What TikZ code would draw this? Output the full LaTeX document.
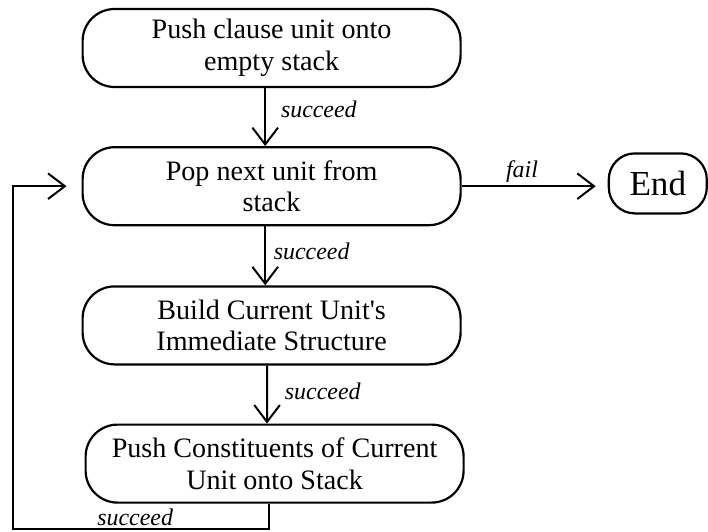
\documentclass[tikz,border=0pt]{standalone}
\usepackage{fontspec}
\setmainfont{Liberation Serif}
\usetikzlibrary{arrows.meta,positioning}
\tikzset{
	unitbox/.style={draw, line width=0.055cm, rounded corners=0.8cm, minimum width=9.45cm, minimum height=1.95cm, align=center, font=\fontsize{20}{22.5}\selectfont},
	flow/.style={line width=0.05cm, -{Straight Barb[length=0.42cm,width=0.64cm,line width=0.05cm]}},
	lbl/.style={font=\fontsize{17}{19}\selectfont\itshape, inner sep=2pt}
}

\begin{document}
\begin{tikzpicture}[node distance=1.45cm]
			%%%%% START %%%%%
			\useasboundingbox (0, 0) rectangle (17.7, -13.275);
			
			\node[unitbox] (push) at (6.79, -1.2) {Push clause unit onto\\empty stack};
			\node[unitbox, below=of push] (pop) {Pop next unit from\\stack};
			\node[unitbox, below=1.475cm of pop] (build) {Build Current Unit\textquotesingle s\\Immediate Structure};
			\node[unitbox, below=of build, xshift=0.075cm] (pushcon) {Push Constituents of Current\\Unit onto Stack};
			
			\node[draw, line width=0.055cm, rounded corners=0.65cm, minimum width=2.45cm, minimum height=1.5cm, font=\fontsize{25}{30}\selectfont, right=3.65cm of pop, yshift=0.07cm] (end) {End};
			
			\draw[flow] ([xshift=-0.16cm]push.south) -- ([xshift=-0.16cm]pop.north) node[lbl, right, pos=0.36, xshift=0.3cm] {succeed};
			\draw[flow] ([xshift=-0.16cm]pop.south) -- ([xshift=-0.16cm]build.north) node[lbl, right, pos=0.42, xshift=0.12cm] {succeed};
			\draw[flow] ([xshift=-0.11cm]build.south) -- ([xshift=-0.19cm]pushcon.north) node[lbl, right, pos=0.44, xshift=0.35cm] {succeed};
			
			\coordinate (failend) at ([xshift=-0.3cm]end.west |- pop.east);
			\draw[flow] (pop.east) -- (failend) node[lbl, above, pos=0.45] {fail};
			
			% loop back
			\coordinate (loopin) at ([xshift=-0.375cm]pop.west);
			\coordinate (loopbot) at (0.33, -13.225);
			\draw[flow] ([xshift=-0.14cm]pushcon.south) |- (loopbot) |- (loopin);
			\node[lbl, above] at (3.38, -13.225) {succeed};
			
			%%%%% END %%%%%
\end{tikzpicture}
\end{document}
